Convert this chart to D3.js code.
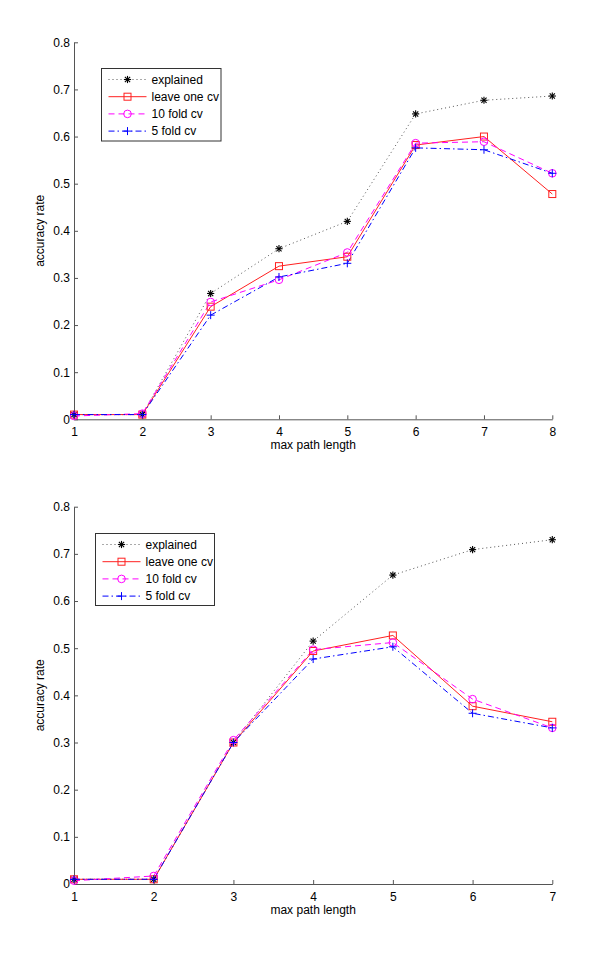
<!DOCTYPE html>
<html><head><meta charset="utf-8">
<script src="https://cdn.jsdelivr.net/npm/d3@7/dist/d3.min.js"></script>
<style>body{margin:0;background:#fff}svg{display:block}text{font-family:"Liberation Sans",Arial,sans-serif;fill:#000}</style>
</head><body><svg id="c" width="600" height="964"></svg>
<script>
// ---- data ----
const seriesNames = ["explained", "leave one cv", "10 fold cv", "5 fold cv"];
const xTop = [1, 2, 3, 4, 5, 6, 7, 8];
const topExplained = [0.01, 0.01, 0.267, 0.362, 0.42, 0.648, 0.677, 0.686];
const topLeaveOne  = [0.01, 0.01, 0.239, 0.325, 0.345, 0.582, 0.600, 0.478];
const topTenFold   = [0.007, 0.012, 0.249, 0.296, 0.354, 0.586, 0.589, 0.522];
const topFiveFold  = [0.01, 0.01, 0.221, 0.302, 0.331, 0.576, 0.572, 0.522];
const xBottom = [1, 2, 3, 4, 5, 6, 7];
const botExplained = [0.01, 0.01, 0.300, 0.515, 0.655, 0.709, 0.730];
const botLeaveOne  = [0.01, 0.01, 0.300, 0.494, 0.527, 0.377, 0.344];
const botTenFold   = [0.007, 0.017, 0.305, 0.497, 0.512, 0.392, 0.331];
const botFiveFold  = [0.01, 0.01, 0.300, 0.477, 0.503, 0.362, 0.331];
const yTicks = [0, 0.1, 0.2, 0.3, 0.4, 0.5, 0.6, 0.7, 0.8];
const xLabel = "max path length";
const yLabel = "accuracy rate";

const styles = [
  {color:"#555", dash:"1,3", marker:"star", width:1},
  {color:"#ff2020", dash:null, marker:"square", width:1},
  {color:"#ff00ff", dash:"6,4", marker:"circle", width:1},
  {color:"#0000ff", dash:"6,3,1.5,3", marker:"plus", width:1}
];
const FS = 12;

const svg = d3.select("#c");

function drawMarker(g, type, x, y, color){
  if(type==="star"){
    const r=3.6;
    [[0,1],[1,0],[0.72,0.72],[0.72,-0.72]].forEach(([a,b])=>{
      g.append("line").attr("x1",x-a*r).attr("y1",y-b*r).attr("x2",x+a*r).attr("y2",y+b*r)
       .attr("stroke","#000").attr("stroke-width",1.1);
    });
  } else if(type==="square"){
    g.append("rect").attr("x",x-3.5).attr("y",y-3.5).attr("width",7).attr("height",7)
     .attr("fill","none").attr("stroke",color).attr("stroke-width",1);
  } else if(type==="circle"){
    g.append("circle").attr("cx",x).attr("cy",y).attr("r",3.8)
     .attr("fill","none").attr("stroke",color).attr("stroke-width",1);
  } else if(type==="plus"){
    const r=4;
    g.append("line").attr("x1",x-r).attr("y1",y).attr("x2",x+r).attr("y2",y).attr("stroke",color).attr("stroke-width",1);
    g.append("line").attr("x1",x).attr("y1",y-r).attr("x2",x).attr("y2",y+r).attr("stroke",color).attr("stroke-width",1);
  }
}

function panel(cfg){
  const x = d3.scaleLinear().domain([cfg.xs[0], cfg.xs[cfg.xs.length-1]]).range([cfg.left, cfg.right]);
  const y = d3.scaleLinear().domain([0, 0.8]).range([cfg.bottom, cfg.top]);
  const g = svg.append("g");
  const xa = g.append("g").attr("transform",`translate(0,${cfg.bottom})`)
    .call(d3.axisBottom(x).tickValues(cfg.xs).tickFormat(d3.format("d")).tickSizeInner(-4).tickSizeOuter(0).tickPadding(8));
  const ya = g.append("g").attr("transform",`translate(${cfg.left},0)`)
    .call(d3.axisLeft(y).tickValues(yTicks).tickFormat(d=> d===0?"0":d3.format(".1f")(d)).tickSizeInner(-4).tickSizeOuter(0).tickPadding(4));
  [xa,ya].forEach(a=>{
    a.select(".domain").attr("stroke","#555");
    a.selectAll(".tick line").attr("stroke","#555");
    a.selectAll("text").attr("font-size",FS).attr("fill","#000").attr("font-family",'"Liberation Sans",Arial,sans-serif');
  });
  xa.selectAll("text").attr("dy","0.71em");
  g.append("text").attr("x",(cfg.left+cfg.right)/2).attr("y",cfg.bottom+30).attr("text-anchor","middle")
    .attr("font-size",FS).text(xLabel);
  g.append("text").attr("transform",`translate(44,${(cfg.top+cfg.bottom)/2}) rotate(-90)`).attr("text-anchor","middle")
    .attr("font-size",FS).text(yLabel);
  const line = d3.line().x((d,i)=>x(cfg.xs[i])).y(d=>y(d));
  cfg.series.forEach((vals,k)=>{
    const s = styles[k];
    g.append("path").attr("d",line(vals)).attr("fill","none").attr("stroke",s.color)
      .attr("stroke-width",s.width).attr("stroke-dasharray",s.dash);
  });
  cfg.series.forEach((vals,k)=>{
    const s = styles[k];
    vals.forEach((v,i)=>drawMarker(g, s.marker, x(cfg.xs[i]), y(v), s.color));
  });
  const L = cfg.legend;
  g.append("rect").attr("x",L.x).attr("y",L.y).attr("width",L.w).attr("height",L.h)
    .attr("fill","#fff").attr("stroke","#333").attr("stroke-width",1);
  seriesNames.forEach((name,k)=>{
    const s = styles[k];
    const ry = L.y + 11 + k*17.2;
    g.append("line").attr("x1",L.x+7).attr("x2",L.x+45).attr("y1",ry).attr("y2",ry)
      .attr("stroke",s.color).attr("stroke-width",1).attr("stroke-dasharray",s.dash);
    drawMarker(g, s.marker, L.x+26, ry, s.color);
    g.append("text").attr("x",L.x+50).attr("y",ry).attr("dy","0.35em").attr("font-size",FS).text(name);
  });
}

panel({xs:xTop, left:74, right:552.3, top:42.3, bottom:419.3,
  series:[topExplained, topLeaveOne, topTenFold, topFiveFold],
  legend:{x:101.5, y:68.5, w:119.5, h:72.5}});
panel({xs:xBottom, left:74, right:552.3, top:506.7, bottom:884,
  series:[botExplained, botLeaveOne, botTenFold, botFiveFold],
  legend:{x:95.5, y:533.5, w:119, h:72}});
</script></body></html>
